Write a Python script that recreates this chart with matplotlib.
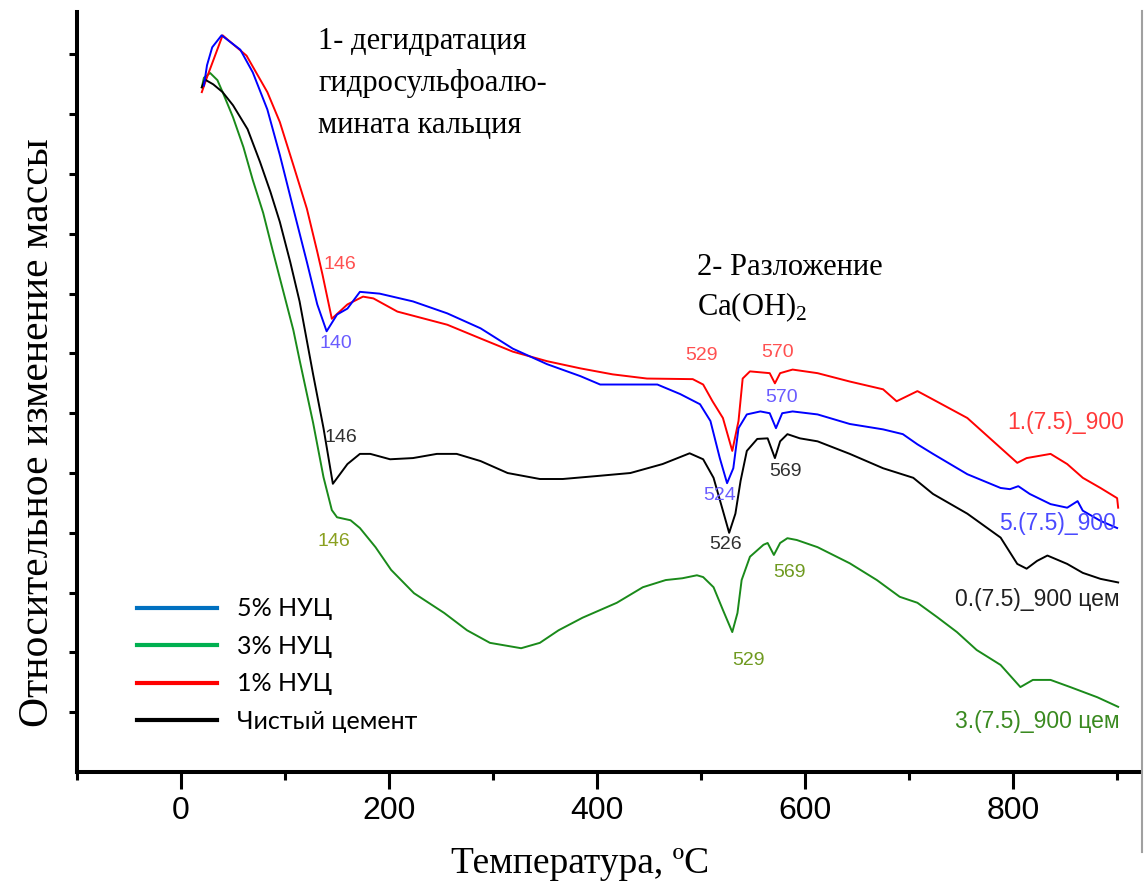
import matplotlib
matplotlib.use("Agg")
import matplotlib.pyplot as plt
from matplotlib.lines import Line2D

plt.rcParams['mathtext.fontset'] = 'custom'
plt.rcParams['mathtext.rm'] = 'Liberation Serif'

# 1% НУЦ (red)
t_red = [20, 25, 40, 63, 83, 95, 108, 121, 131, 136, 145, 160, 175, 185, 208, 256, 288, 319, 352, 384,
         415, 448, 492, 502, 511, 521, 530, 536, 540, 547, 566, 571, 576, 588, 612, 643, 675, 688, 708, 723,
         756, 788, 804, 813, 836, 852, 867, 884, 900, 901]
m_red = [11.37, 11.62, 12.32, 11.98, 11.37, 10.87, 10.15, 9.42, 8.70, 8.32, 7.58, 7.82, 7.95, 7.92, 7.70, 7.48, 7.25, 7.03, 6.87, 6.75,
         6.65, 6.58, 6.57, 6.48, 6.20, 5.92, 5.37, 5.87, 6.58, 6.70, 6.67, 6.50, 6.67, 6.73, 6.67, 6.53, 6.40, 6.20, 6.37, 6.23,
         5.92, 5.42, 5.17, 5.25, 5.32, 5.15, 4.92, 4.75, 4.58, 4.42]

# 5% НУЦ (blue)
t_blue = [22, 25, 30, 39, 57, 69, 83, 95, 108, 121, 131, 140, 150, 160, 172, 191, 223, 256, 288, 319,
          352, 384, 403, 458, 480, 499, 509, 518, 525, 531, 536, 544, 557, 566, 572, 578, 588, 612, 643, 675,
          694, 708, 723, 756, 788, 797, 805, 816, 836, 852, 862, 867, 884, 900]
m_blue = [11.48, 11.82, 12.12, 12.32, 12.08, 11.70, 11.08, 10.32, 9.42, 8.53, 7.82, 7.37, 7.65, 7.75, 8.03, 8.00, 7.87, 7.67, 7.42, 7.08,
          6.82, 6.62, 6.48, 6.48, 6.32, 6.15, 5.87, 5.25, 4.83, 5.08, 5.75, 5.98, 6.03, 6.00, 5.75, 6.00, 6.03, 5.98, 5.82, 5.73,
          5.65, 5.48, 5.32, 4.98, 4.75, 4.73, 4.78, 4.65, 4.48, 4.42, 4.53, 4.37, 4.20, 4.08]

# Чистый цемент (black)
t_black = [20, 23, 31, 40, 50, 64, 76, 86, 95, 105, 114, 127, 137, 146, 160, 172, 182, 201, 223, 246,
           265, 288, 314, 345, 367, 400, 432, 463, 489, 502, 512, 521, 527, 533, 538, 544, 554, 564, 571, 576,
           583, 595, 612, 643, 675, 704, 723, 756, 788, 804, 813, 823, 833, 852, 867, 884, 901]
m_black = [11.45, 11.58, 11.50, 11.37, 11.15, 10.75, 10.20, 9.70, 9.20, 8.53, 7.87, 6.65, 5.75, 4.82, 5.15, 5.32, 5.32, 5.23, 5.25, 5.32,
           5.32, 5.20, 5.00, 4.90, 4.90, 4.95, 5.00, 5.15, 5.33, 5.23, 4.92, 4.37, 4.00, 4.32, 4.87, 5.37, 5.57, 5.58, 5.25, 5.53,
           5.65, 5.58, 5.53, 5.32, 5.08, 4.92, 4.65, 4.32, 3.92, 3.48, 3.40, 3.53, 3.62, 3.48, 3.33, 3.23, 3.17]

# 3% НУЦ (green)
t_green = [20, 22, 28, 35, 40, 50, 60, 69, 79, 88, 98, 108, 114, 127, 137, 145, 150, 163, 172, 187,
           202, 224, 253, 275, 297, 327, 345, 363, 386, 419, 444, 466, 482, 496, 502, 512, 521, 530, 535, 539,
           547, 560, 564, 570, 576, 583, 592, 612, 643, 669, 691, 708, 727, 746, 765, 788, 807, 819, 836, 855,
           881, 901]
m_green = [11.45, 11.61, 11.69, 11.57, 11.37, 10.95, 10.45, 9.90, 9.35, 8.73, 8.06, 7.39, 6.89, 5.84, 4.93, 4.38, 4.26, 4.21, 4.08, 3.76,
           3.38, 2.99, 2.66, 2.37, 2.16, 2.07, 2.16, 2.37, 2.58, 2.83, 3.09, 3.21, 3.24, 3.29, 3.26, 3.09, 2.71, 2.34, 2.66, 3.21,
           3.60, 3.80, 3.83, 3.63, 3.83, 3.91, 3.88, 3.76, 3.49, 3.21, 2.93, 2.83, 2.59, 2.34, 2.04, 1.79, 1.42, 1.54, 1.54, 1.42,
           1.25, 1.09]

legend_labels = ['5% НУЦ', '3% НУЦ', '1% НУЦ', 'Чистый цемент']
legend_colors = ['#0070c0', '#00b050', '#ff0000', '#000000']

# peak labels: (text, T, y, colour)
peak_labels = [
    ('146', 153, 8.48, '#ff5050'),
    ('140', 149, 7.17, '#6a5cff'),
    ('146', 154, 5.60, '#303030'),
    ('146', 147, 3.86, '#8aa020'),
    ('529', 500, 6.96, '#ff5050'),
    ('570', 574, 7.02, '#ff5050'),
    ('570', 577, 6.27, '#6a5cff'),
    ('524', 518, 4.63, '#6a5cff'),
    ('569', 581, 5.02, '#303030'),
    ('526', 524, 3.80, '#303030'),
    ('569', 585, 3.33, '#6f9a20'),
    ('529', 546, 1.86, '#6f9a20'),
]
end_labels = [
    ('1.(7.5)_900', 794, 5.85, '#ff3a3a'),
    ('5.(7.5)_900', 787, 4.16, '#4a4aff'),
    ('0.(7.5)_900 цем', 744, 2.88, '#202020'),
    ('3.(7.5)_900 цем', 744, 0.84, '#3a8a20'),
]

fig = plt.figure(figsize=(11.45, 8.82), dpi=100)
ax = fig.add_axes([77 / 1145, 1 - 772 / 882, (1140 - 77) / 1145, (772 - 12) / 882])

ax.plot(t_green, m_green, color='#1a8a1a', lw=1.4)
ax.plot(t_red, m_red, color='#ff0000', lw=1.4)
ax.plot(t_black, m_black, color='#000000', lw=1.4)
ax.plot(t_blue, m_blue, color='#0000ff', lw=1.4)

ax.set_xlim(-100, 922)
ax.set_ylim(0, 12.71)

for sp in ['top', 'right']:
    ax.spines[sp].set_visible(False)
for sp in ['left', 'bottom']:
    ax.spines[sp].set_linewidth(2.9)

ax.set_xticks([0, 200, 400, 600, 800])
ax.set_xticks([-100, 100, 300, 500, 700, 900], minor=True)
ax.set_yticks(range(1, 13))
ax.set_yticklabels([])
ax.tick_params(axis='x', which='major', length=12, width=2.2, pad=5,
               labelsize=23, labelfontfamily='Liberation Sans')
ax.tick_params(axis='x', which='minor', length=6, width=2.2)
ax.tick_params(axis='y', which='major', length=6, width=2.2)

for txt, tx, ty, c in peak_labels:
    ax.text(tx, ty, txt, color=c, fontsize=14, family='Liberation Sans', ha='center', va='center')
for txt, tx, ty, c in end_labels:
    ax.text(tx, ty, txt, color=c, fontsize=16.5, family='Liberation Sans', ha='left', va='center', clip_on=True)

# annotations
serif = 'Liberation Serif'
ax.text(132, 12.21, '1- дегидратация', fontsize=22, family=serif, va='center')
ax.text(132, 11.52, 'гидросульфоалю-', fontsize=22, family=serif, va='center')
ax.text(132, 10.82, 'мината кальция', fontsize=22, family=serif, va='center')
ax.text(496, 8.43, '2- Разложение', fontsize=22, family=serif, va='center')
ax.text(496, 7.78, r'Ca(OH)$_\mathrm{2}$', fontsize=22, family=serif, va='center')

handles = [Line2D([], [], color=c, lw=3) for c in legend_colors]
ax.legend(handles, legend_labels, loc='center left', frameon=False,
          bbox_to_anchor=(137 / 1145, 1 - 665 / 882), bbox_transform=fig.transFigure,
          borderpad=0, borderaxespad=0, handlelength=3.2, handletextpad=0.8,
          labelspacing=0.58, prop={'family': 'Lato', 'size': 18})

fig.text(580 / 1145, 1 - 873 / 882, 'Температура, ºC', fontsize=27, family=serif,
         ha='center', va='baseline')
fig.text(38 / 1145, 1 - 433 / 882, 'Относительное изменение массы', fontsize=30, family=serif,
         ha='center', va='center', rotation=90)

fig.add_artist(Line2D([1142 / 1145, 1142 / 1145], [1 - 11 / 882, 1 - 852 / 882],
                      color='#a0a0a0', lw=1.5, transform=fig.transFigure))

fig.savefig('out.png', dpi=100)
